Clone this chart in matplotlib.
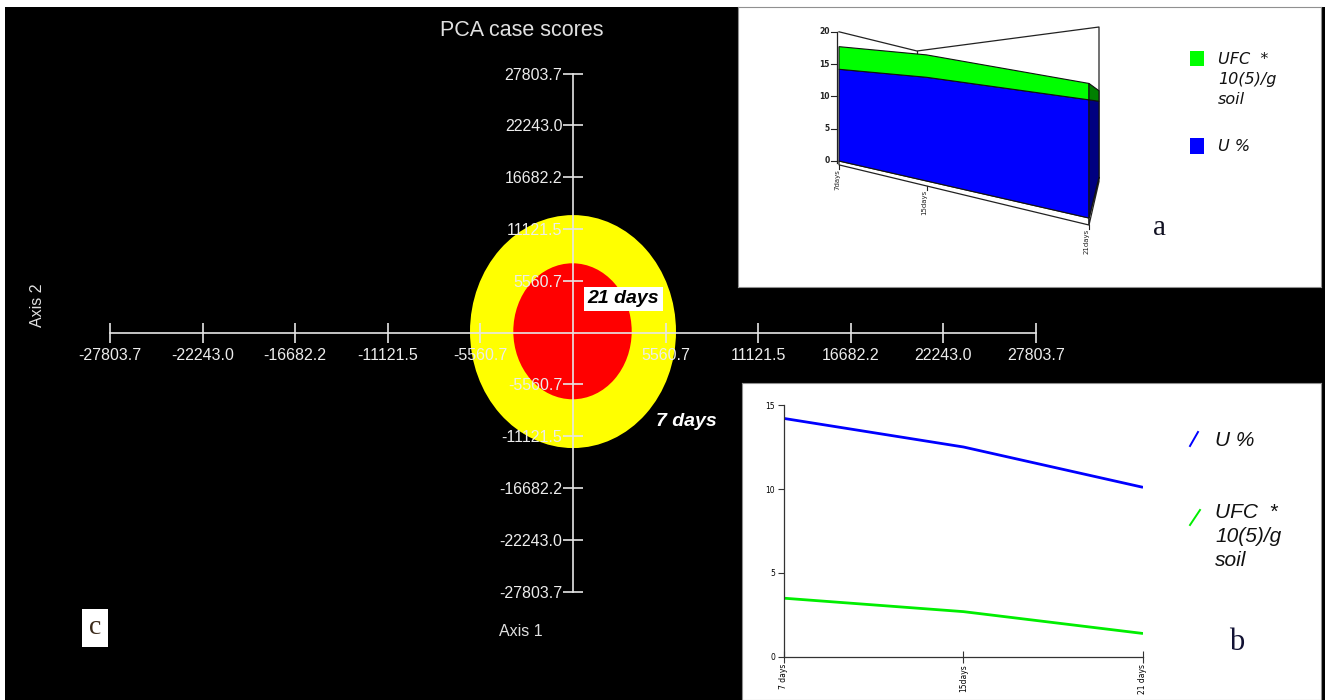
import matplotlib
matplotlib.use("Agg")
import matplotlib.pyplot as plt
from matplotlib.patches import Ellipse, Rectangle, Polygon

# ---------------- data ----------------
# PCA case scores (panel c)
pca_ticks = [-27803.7, -22243.0, -16682.2, -11121.5, -5560.7,
             5560.7, 11121.5, 16682.2, 22243.0, 27803.7]
pca_tick_labels = ["-27803.7", "-22243.0", "-16682.2", "-11121.5", "-5560.7",
                   "5560.7", "11121.5", "16682.2", "22243.0", "27803.7"]
pca_limit = 27803.7
groups = ["7 days", "21 days"]
group_cx = [0.0, -30.0]
group_cy = [100.0, 130.0]
group_w = [12370.0, 7110.0]
group_h = [25010.0, 14600.0]

# soil measurements (panels a and b)
days_a = ["7days", "15days", "21days"]
days_b = ["7 days", "15days", "21 days"]
u_pct = [14.2, 12.5, 10.1]
ufc = [3.5, 2.7, 1.4]
a_yticks = [0, 5, 10, 15, 20]
b_yticks = [0, 5, 10, 15]

# ---------------- figure ----------------
W, H = 1330, 700
fig = plt.figure(figsize=(W / 100, H / 100), dpi=100)
fig.patch.set_facecolor("white")

SANS = ["Liberation Sans", "DejaVu Sans"]
SERIF = ["Liberation Serif", "DejaVu Serif"]


def fx(px):
    return px / W


def fy(py):
    return 1 - py / H


# black backdrop
bg = fig.add_axes([fx(5), 0, fx(1325 - 5), (H - 7) / H])
bg.set_facecolor("black")
bg.set_xticks([]); bg.set_yticks([])
for s in bg.spines.values():
    s.set_visible(False)
bg.set_zorder(-5)

# ---------------- panel c: PCA scores ----------------
ax = fig.add_axes([fx(110), fy(591.5), fx(1036 - 110), (591.5 - 73.5) / H])
ax.set_facecolor("none")
ax.set_xlim(-pca_limit, pca_limit)
ax.set_ylim(-pca_limit, pca_limit)
group_colors = ["#ffff00", "#ff0000"]
for cx, cy, w, h, c in zip(group_cx, group_cy, group_w, group_h, group_colors):
    ax.add_patch(Ellipse((cx, cy), w, h, facecolor=c, edgecolor="none", zorder=1))

for side in ("top", "right"):
    ax.spines[side].set_visible(False)
for side in ("left", "bottom"):
    ax.spines[side].set_position(("data", 0))
    ax.spines[side].set_color("#e6e6e6")
    ax.spines[side].set_linewidth(1.2)
ax.set_xticks(pca_ticks, labels=pca_tick_labels)
ax.set_yticks(pca_ticks, labels=pca_tick_labels)
ax.tick_params(direction="inout", length=14.4, width=1.2, color="#e6e6e6",
               labelcolor="#ececec", labelsize=11.5)
ax.tick_params(axis="x", pad=4)
ax.tick_params(axis="y", pad=0.5)
for lab in ax.get_xticklabels() + ax.get_yticklabels():
    lab.set_family(SANS)

# group labels
ax.text(group_cx[1] + 900, 3600, groups[1], fontsize=14, fontweight="bold",
        fontstyle="italic", family=SANS, color="black", ha="left", va="center",
        zorder=6,
        bbox=dict(boxstyle="square,pad=0.2", facecolor="white", edgecolor="none"))
ax.text(group_cx[0] + 5000, -9600, groups[0], fontsize=14, fontweight="bold",
        fontstyle="italic", family=SANS, color="white", ha="left", va="center",
        zorder=6)

fig.text(fx(522), fy(30), "PCA case scores", color="#e0e0e0", fontsize=15.5,
         family=SANS, ha="center", va="center")
fig.text(fx(521), fy(631), "Axis 1", color="#e0e0e0", fontsize=11.5,
         family=SANS, ha="center", va="center")
fig.text(fx(37), fy(305), "Axis 2", color="#e0e0e0", fontsize=11.5,
         family=SANS, ha="center", va="center", rotation=90)
fig.text(fx(95), fy(628), "c", color="#3b2a1a", fontsize=20, family=SERIF,
         ha="center", va="center",
         bbox=dict(boxstyle="square,pad=0.25", facecolor="white", edgecolor="none"))

# ---------------- panel a: 3D area chart ----------------
axa = fig.add_axes([fx(738), fy(287), fx(1321 - 738), (287 - 7) / H])
axa.set_xlim(738, 1321)
axa.set_ylim(287, 7)
axa.set_xticks([]); axa.set_yticks([])
axa.set_facecolor("white")
for s in axa.spines.values():
    s.set_color("#909090")

# perspective corners: (u, w) -> (screen x, baseline y, pixels per unit)
corners = {(0, 0): (839.0, 161.0, 6.46), (1, 0): (1089.0, 218.0, 11.7),
           (0, 1): (917.0, 147.0, 4.8), (1, 1): (1099.0, 177.0, 7.5)}


def proj(u, v, w):
    out = []
    for k in range(3):
        a = corners[(0, 0)][k] * (1 - u) + corners[(1, 0)][k] * u
        b = corners[(0, 1)][k] * (1 - u) + corners[(1, 1)][k] * u
        out.append(a * (1 - w) + b * w)
    x, base, s = out
    return x, base - v * s


cat_u = [0.0, 0.35, 1.0]
totals = [a + b for a, b in zip(u_pct, ufc)]
floor = -0.6

# frame behind the area
frame = [proj(0, 20, 0), proj(0, 20, 1), proj(1, 20, 1), proj(1, 0, 1)]
axa.plot(*zip(*frame), color="#222222", lw=0.9, zorder=1)
axa.plot(*zip(proj(0, 20, 1), proj(0, 0, 1)), color="#222222", lw=0.9, zorder=1)

# floor plate
fl_front = [proj(u, 0, 0) for u in cat_u] + [proj(u, floor, 0) for u in cat_u[::-1]]
axa.add_patch(Polygon(fl_front, closed=True, facecolor="white", edgecolor="#222222",
                      lw=0.9, zorder=2))
fl_side = [proj(1, 0, 0), proj(1, floor, 0), proj(1, floor, 1), proj(1, 0, 1)]
axa.add_patch(Polygon(fl_side, closed=True, facecolor="white", edgecolor="#222222",
                      lw=0.9, zorder=2))

# front faces
blue_face = [proj(u, 0, 0) for u in cat_u] + [proj(u, v, 0) for u, v in zip(cat_u[::-1], u_pct[::-1])]
green_face = [proj(u, v, 0) for u, v in zip(cat_u, u_pct)] + \
             [proj(u, v, 0) for u, v in zip(cat_u[::-1], totals[::-1])]
axa.add_patch(Polygon(blue_face, closed=True, facecolor="#0000ff", edgecolor="#111111",
                      lw=0.8, zorder=3))
axa.add_patch(Polygon(green_face, closed=True, facecolor="#00ff00", edgecolor="#111111",
                      lw=0.8, zorder=3))
# right side faces
blue_side = [proj(1, 0, 0), proj(1, u_pct[-1], 0), proj(1, u_pct[-1], 1), proj(1, 0, 1)]
green_side = [proj(1, u_pct[-1], 0), proj(1, totals[-1], 0), proj(1, totals[-1], 1),
              proj(1, u_pct[-1], 1)]
axa.add_patch(Polygon(blue_side, closed=True, facecolor="#000080", edgecolor="#111111",
                      lw=0.8, zorder=3))
axa.add_patch(Polygon(green_side, closed=True, facecolor="#008000", edgecolor="#111111",
                      lw=0.8, zorder=3))

# value axis
x0, y_top = proj(0, 20, 0)
_, y_bot = proj(0, 0, 0)
axa.plot([x0 - 2, x0 - 2], [y_bot + 2, y_top], color="#222222", lw=0.9, zorder=4)
for t in a_yticks:
    xt, yt = proj(0, t, 0)
    axa.plot([xt - 8, xt - 2], [yt, yt], color="#222222", lw=0.8, zorder=4)
    axa.text(xt - 9, yt, str(t), fontsize=5.5, fontweight="bold", family="DejaVu Sans",
             ha="right", va="center", color="#222222")

# category ticks and labels
for u, lab in zip(cat_u, days_a):
    xt, yt = proj(u, floor, 0)
    axa.plot([xt, xt], [yt, yt + 4], color="#222222", lw=0.8, zorder=4)
    axa.text(xt - 2, yt + 4, lab, fontsize=5, family="DejaVu Sans", rotation=90,
             ha="center", va="top", color="#222222")

# legend
axa.add_patch(Rectangle((1190, 51), 14, 15, facecolor="#00ff00", edgecolor="none"))
axa.add_patch(Rectangle((1190, 138), 14, 16, facecolor="#0000ff", edgecolor="none"))
for txt, yy in (("UFC  *", 60), ("10(5)/g", 80), ("soil", 100), ("U %", 147)):
    axa.text(1218, yy, txt, fontsize=11.5, fontstyle="italic", family="DejaVu Sans",
             ha="left", va="center", color="#111111")
axa.text(1160, 228, "a", fontsize=21, family=SERIF, ha="center", va="center",
         color="#111122")

# ---------------- panel b: line chart ----------------
axbg = fig.add_axes([fx(742), 0, fx(1321 - 742), (700 - 383) / H])
axbg.set_xlim(742, 1321)
axbg.set_ylim(700, 383)
axbg.set_xticks([]); axbg.set_yticks([])
axbg.set_facecolor("white")
for s in axbg.spines.values():
    s.set_color("#909090")

axb = fig.add_axes([fx(784), fy(657), fx(1143 - 784), (657 - 405) / H])
axb.set_facecolor("none")
xs = list(range(len(days_b)))
axb.plot(xs, u_pct, color="#0000ff", lw=2.0, solid_capstyle="butt")
axb.plot(xs, ufc, color="#00ee00", lw=2.0, solid_capstyle="butt")
axb.set_xlim(0, 2)
axb.set_ylim(0, 15)
for side in ("top", "right"):
    axb.spines[side].set_visible(False)
for side in ("left", "bottom"):
    axb.spines[side].set_color("#333333")
    axb.spines[side].set_linewidth(0.9)
axb.set_yticks(b_yticks, labels=[str(t) for t in b_yticks])
axb.set_xticks(xs, labels=days_b)
axb.tick_params(axis="y", direction="out", length=4.5, width=0.8, color="#333333",
                labelsize=5.5, pad=2)
axb.tick_params(axis="x", direction="inout", length=8, width=0.8, color="#333333",
                labelsize=5.5, pad=1, labelrotation=90)
for lab in axb.get_xticklabels() + axb.get_yticklabels():
    lab.set_family("DejaVu Sans")

# legend
axbg.plot([1190, 1198], [446, 432], color="#0000ff", lw=1.4)
axbg.plot([1190, 1200], [525, 510], color="#00ee00", lw=1.4)
axbg.text(1215, 440, "U %", fontsize=15, fontstyle="italic", family=SANS,
          ha="left", va="center", color="#111111")
for txt, yy in (("UFC  *", 512), ("10(5)/g", 537), ("soil", 560)):
    axbg.text(1215, yy, txt, fontsize=15, fontstyle="italic", family=SANS,
              ha="left", va="center", color="#111111")
axbg.text(1237, 642, "b", fontsize=22, family=SERIF, ha="center", va="center",
          color="#111133")

fig.savefig("out.png", dpi=100, facecolor=fig.get_facecolor())
